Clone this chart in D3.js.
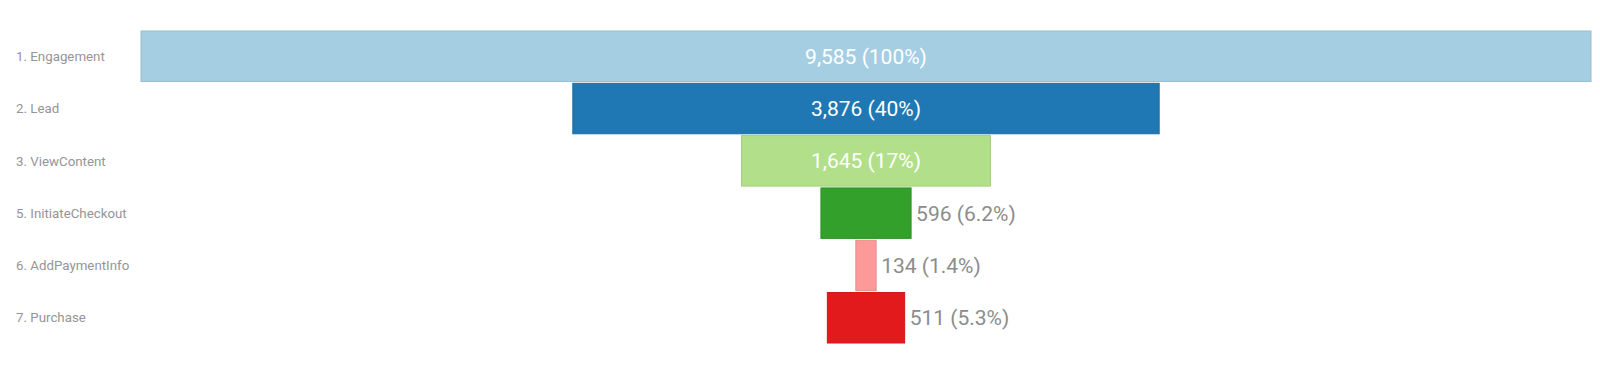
<!DOCTYPE html>
<html>
<head>
<meta charset="utf-8">
<script src="https://cdn.jsdelivr.net/npm/d3@7"></script>
<style>
  body { margin: 0; background: #fff; font-family: Roboto, "Noto Sans", sans-serif; }
  .step-label { fill: #959595; font-size: 13.3px; }
  .value-label { font-size: 21px; }
</style>
</head>
<body>
<div id="chart"></div>
<script>
// Étapes du funnel et valeurs
let steps = ["1. Engagement", "2. Lead", "3. ViewContent", "5. InitiateCheckout", "6. AddPaymentInfo", "7. Purchase"];
let counts = [9585, 3876, 1645, 596, 134, 511];
let colors = ["#a6cee3", "#1f78b4", "#b2df8a", "#33a02c", "#fb9a99", "#e31a1c"];

let fullWidth = 1600;
let fullHeight = 375;

let margins = {
  "left": 141,
  "right": 9,
  "top": 31,
  "bottom": 32
};

let width = fullWidth - margins.left - margins.right;
let height = fullHeight - margins.top - margins.bottom;

let svg = d3.select("#chart")
            .append("svg")
            .attr("width", fullWidth)
            .attr("height", fullHeight);

let g = svg.append("g")
           .attr("transform", `translate(${margins.left},${margins.top})`);

let data = steps.map((s, i) => ({ step: s, count: counts[i], color: colors[i] }));
let total = counts[0];

// Échelles
let yScale = d3.scaleBand()
               .domain(steps)
               .range([0, height])
               .paddingInner(0.035);

let wScale = d3.scaleLinear()
               .domain([0, total])
               .range([0, width]);

let center = width / 2;
let fmtCount = d3.format(",");
let fmtPct = d3.format(".2r");

// Barres
g.selectAll("rect.bar")
 .data(data)
 .enter()
 .append("rect")
 .attr("class", "bar")
 .attr("x", d => center - wScale(d.count) / 2)
 .attr("y", d => yScale(d.step))
 .attr("width", d => wScale(d.count))
 .attr("height", yScale.bandwidth())
 .style("fill", d => d.color)
 .style("stroke", d => d3.color(d.color).darker(0.25))
 .style("stroke-width", 1);

// Libellés des étapes
svg.selectAll("text.step-label")
   .data(data)
   .enter()
   .append("text")
   .attr("class", "step-label")
   .attr("x", 16)
   .attr("y", d => margins.top + yScale(d.step) + yScale.bandwidth() / 2)
   .attr("dy", "0.35em")
   .text(d => d.step);

// Valeurs : dedans si ça rentre, sinon à droite
let labels = g.selectAll("text.value-label")
              .data(data)
              .enter()
              .append("text")
              .attr("class", "value-label")
              .attr("y", d => yScale(d.step) + yScale.bandwidth() / 2)
              .attr("dy", "0.35em")
              .text(d => `${fmtCount(d.count)} (${fmtPct(d.count / total * 100)}%)`);

labels.each(function(d) {
  let tw = this.getComputedTextLength();
  let bw = wScale(d.count);
  let el = d3.select(this);
  if (tw + 10 < bw) {
    el.attr("x", center)
      .attr("text-anchor", "middle")
      .style("fill", "#fff");
  } else {
    el.attr("x", center + bw / 2 + 5)
      .attr("text-anchor", "start")
      .style("fill", "#8c8c8c");
  }
});
</script>
</body>
</html>
